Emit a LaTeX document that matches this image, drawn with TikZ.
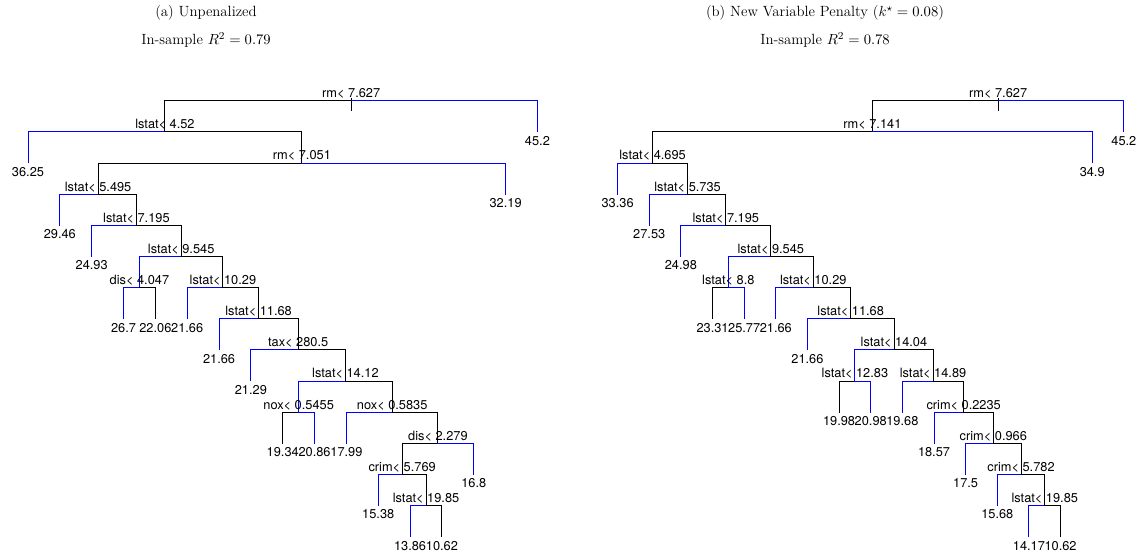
\documentclass[tikz,border=0pt]{standalone}
\usepackage{amsmath}
\usepackage{amssymb}
\usepackage{fontspec}
\newfontfamily\rfont{TeX Gyre Heros}
\usepackage{tikz}

\tikzset{
	lab/.style={inner sep=0pt, font=\rfont\fontsize{9.6}{11}\selectfont},
	splitlab/.style={lab, anchor=base, yshift=2.3pt},
	leaflab/.style={lab, anchor=north, yshift=-3pt},
	branch/.style={line width=0.7pt, line cap=rect},
	ttl/.style={anchor=base, inner sep=0pt, font=\fontsize{11.1}{13}\selectfont},
}

\begin{document}
\begin{tikzpicture}[x=0.75pt,y=-0.75pt]
	\useasboundingbox (0,0) rectangle (1144,556);

	\node (ta) at (206,17) [ttl]{(a) Unpenalized};
	\node (ra) at (206,45) [ttl]{In-sample $R^2 = 0.79$};
	\node (tb) at (825,17) [ttl]{(b) New Variable Penalty ($k^\star = 0.08$)};
	\node (rb) at (825,45) [ttl]{In-sample $R^2 = 0.78$};

	% (a) unpenalized tree, y counts levels
	\begin{scope}[shift={(0,100.7)}, y=-23.36pt]
		\coordinate (A) at (351.19,0);
		\coordinate (B) at (164.93,1);
		\coordinate (C) at (301.87,2);
		\coordinate (D) at (98.13,3);
		\coordinate (E) at (136.42,4);
		\coordinate (F) at (181.17,5);
		\coordinate (G) at (139.44,6);
		\coordinate (H) at (222.9,6);
		\coordinate (I) at (258.59,7);
		\coordinate (J) at (298.14,8);
		\coordinate (K) at (345.41,9);
		\coordinate (L) at (298.64,10);
		\coordinate (M) at (392.17,10);
		\coordinate (N) at (437.94,11);
		\coordinate (O) at (402.12,12);
		\coordinate (P) at (426.0,13);
		\coordinate (a) at (28.0,2);
		\coordinate (b) at (59.84,4);
		\coordinate (c) at (91.68,5);
		\coordinate (d) at (123.52,7);
		\coordinate (e) at (155.36,7);
		\coordinate (f) at (187.2,7);
		\coordinate (g) at (219.04,8);
		\coordinate (h) at (250.88,9);
		\coordinate (i) at (282.72,11);
		\coordinate (j) at (314.56,11);
		\coordinate (k) at (346.4,11);
		\coordinate (l) at (378.24,13);
		\coordinate (m) at (410.08,14);
		\coordinate (n) at (441.92,14);
		\coordinate (o) at (473.76,12);
		\coordinate (p) at (505.6,3);
		\coordinate (q) at (537.44,1);
		\coordinate (A0) at (351.19,-0.08);
		\coordinate (A1) at (351.19,0.3);

		\draw[branch] (A0) -- (A1);
		\draw[branch] (A) -| (B);   \draw[branch,blue] (A) -| (q);
		\draw[branch,blue] (B) -| (a); \draw[branch] (B) -| (C);
		\draw[branch] (C) -| (D);   \draw[branch,blue] (C) -| (p);
		\draw[branch,blue] (D) -| (b); \draw[branch] (D) -| (E);
		\draw[branch,blue] (E) -| (c); \draw[branch] (E) -| (F);
		\draw[branch,blue] (F) -| (G); \draw[branch] (F) -| (H);
		\draw[branch,blue] (G) -| (d); \draw[branch] (G) -| (e);
		\draw[branch,blue] (H) -| (f); \draw[branch] (H) -| (I);
		\draw[branch,blue] (I) -| (g); \draw[branch] (I) -| (J);
		\draw[branch,blue] (J) -| (h); \draw[branch] (J) -| (K);
		\draw[branch,blue] (K) -| (L); \draw[branch] (K) -| (M);
		\draw[branch] (L) -| (i);   \draw[branch,blue] (L) -| (j);
		\draw[branch,blue] (M) -| (k); \draw[branch] (M) -| (N);
		\draw[branch] (N) -| (O);   \draw[branch,blue] (N) -| (o);
		\draw[branch,blue] (O) -| (l); \draw[branch] (O) -| (P);
		\draw[branch,blue] (P) -| (m); \draw[branch] (P) -| (n);

		\node (sA) at (A) [splitlab]{rm< 7.627};
		\node (sB) at (B) [splitlab]{lstat< 4.52};
		\node (sC) at (C) [splitlab]{rm< 7.051};
		\node (sD) at (D) [splitlab]{lstat< 5.495};
		\node (sE) at (E) [splitlab]{lstat< 7.195};
		\node (sF) at (F) [splitlab]{lstat< 9.545};
		\node (sG) at (G) [splitlab]{dis< 4.047};
		\node (sH) at (H) [splitlab]{lstat< 10.29};
		\node (sI) at (I) [splitlab]{lstat< 11.68};
		\node (sJ) at (J) [splitlab]{tax< 280.5};
		\node (sK) at (K) [splitlab]{lstat< 14.12};
		\node (sL) at (L) [splitlab]{nox< 0.5455};
		\node (sM) at (M) [splitlab]{nox< 0.5835};
		\node (sN) at (N) [splitlab]{dis< 2.279};
		\node (sO) at (O) [splitlab]{crim< 5.769};
		\node (sP) at (P) [splitlab]{lstat< 19.85};

		\node (va) at (a) [leaflab]{36.25};
		\node (vb) at (b) [leaflab]{29.46};
		\node (vc) at (c) [leaflab]{24.93};
		\node (vd) at (d) [leaflab]{26.7};
		\node (ve) at (e) [leaflab]{22.06};
		\node (vf) at (f) [leaflab]{21.66};
		\node (vg) at (g) [leaflab]{21.66};
		\node (vh) at (h) [leaflab]{21.29};
		\node (vi) at (i) [leaflab]{19.34};
		\node (vj) at (j) [leaflab]{20.86};
		\node (vk) at (k) [leaflab]{17.99};
		\node (vl) at (l) [leaflab]{15.38};
		\node (vm) at (m) [leaflab]{13.86};
		\node (vn) at (n) [leaflab]{10.62};
		\node (vo) at (o) [leaflab]{16.8};
		\node (vp) at (p) [leaflab]{32.19};
		\node (vq) at (q) [leaflab]{45.2};
	\end{scope}

	% (b) tree with the new variable penalty
	\begin{scope}[shift={(0,100.7)}, y=-23.36pt]
		\coordinate (A') at (998.12,0);
		\coordinate (B') at (872.39,1);
		\coordinate (C') at (652.57,2);
		\coordinate (D') at (687.54,3);
		\coordinate (E') at (725.84,4);
		\coordinate (F') at (770.8,5);
		\coordinate (G') at (728.34,6);
		\coordinate (H') at (813.25,6);
		\coordinate (I') at (850.7,7);
		\coordinate (J') at (893.96,8);
		\coordinate (K') at (854.9,9);
		\coordinate (L') at (933.01,9);
		\coordinate (M') at (963.66,10);
		\coordinate (N') at (993.33,11);
		\coordinate (O') at (1021.01,12);
		\coordinate (P') at (1044.74,13);
		\coordinate (a') at (617.6,3);
		\coordinate (b') at (649.24,4);
		\coordinate (c') at (680.88,5);
		\coordinate (d') at (712.52,7);
		\coordinate (e') at (744.16,7);
		\coordinate (f') at (775.8,7);
		\coordinate (g') at (807.44,8);
		\coordinate (h') at (839.08,10);
		\coordinate (i') at (870.72,10);
		\coordinate (j') at (902.36,10);
		\coordinate (k') at (934.0,11);
		\coordinate (l') at (965.64,12);
		\coordinate (m') at (997.28,13);
		\coordinate (n') at (1028.92,14);
		\coordinate (o') at (1060.56,14);
		\coordinate (p') at (1092.2,2);
		\coordinate (q') at (1123.84,1);
		\coordinate (A0') at (998.12,-0.08);
		\coordinate (A1') at (998.12,0.3);

		\draw[branch] (A0') -- (A1');
		\draw[branch] (A') -| (B');    \draw[branch,blue] (A') -| (q');
		\draw[branch] (B') -| (C');    \draw[branch,blue] (B') -| (p');
		\draw[branch,blue] (C') -| (a'); \draw[branch] (C') -| (D');
		\draw[branch,blue] (D') -| (b'); \draw[branch] (D') -| (E');
		\draw[branch,blue] (E') -| (c'); \draw[branch] (E') -| (F');
		\draw[branch,blue] (F') -| (G'); \draw[branch] (F') -| (H');
		\draw[branch] (G') -| (d');    \draw[branch,blue] (G') -| (e');
		\draw[branch,blue] (H') -| (f'); \draw[branch] (H') -| (I');
		\draw[branch,blue] (I') -| (g'); \draw[branch] (I') -| (J');
		\draw[branch,blue] (J') -| (K'); \draw[branch] (J') -| (L');
		\draw[branch] (K') -| (h');    \draw[branch,blue] (K') -| (i');
		\draw[branch,blue] (L') -| (j'); \draw[branch] (L') -| (M');
		\draw[branch,blue] (M') -| (k'); \draw[branch] (M') -| (N');
		\draw[branch,blue] (N') -| (l'); \draw[branch] (N') -| (O');
		\draw[branch,blue] (O') -| (m'); \draw[branch] (O') -| (P');
		\draw[branch,blue] (P') -| (n'); \draw[branch] (P') -| (o');

		\node (sA') at (A') [splitlab]{rm< 7.627};
		\node (sB') at (B') [splitlab]{rm< 7.141};
		\node (sC') at (C') [splitlab]{lstat< 4.695};
		\node (sD') at (D') [splitlab]{lstat< 5.735};
		\node (sE') at (E') [splitlab]{lstat< 7.195};
		\node (sF') at (F') [splitlab]{lstat< 9.545};
		\node (sG') at (G') [splitlab]{lstat< 8.8};
		\node (sH') at (H') [splitlab]{lstat< 10.29};
		\node (sI') at (I') [splitlab]{lstat< 11.68};
		\node (sJ') at (J') [splitlab]{lstat< 14.04};
		\node (sK') at (K') [splitlab]{lstat< 12.83};
		\node (sL') at (L') [splitlab]{lstat< 14.89};
		\node (sM') at (M') [splitlab]{crim< 0.2235};
		\node (sN') at (N') [splitlab]{crim< 0.966};
		\node (sO') at (O') [splitlab]{crim< 5.782};
		\node (sP') at (P') [splitlab]{lstat< 19.85};

		\node (va') at (a') [leaflab]{33.36};
		\node (vb') at (b') [leaflab]{27.53};
		\node (vc') at (c') [leaflab]{24.98};
		\node (vd') at (d') [leaflab]{23.31};
		\node (ve') at (e') [leaflab]{25.77};
		\node (vf') at (f') [leaflab]{21.66};
		\node (vg') at (g') [leaflab]{21.66};
		\node (vh') at (h') [leaflab]{19.98};
		\node (vi') at (i') [leaflab]{20.98};
		\node (vj') at (j') [leaflab]{19.68};
		\node (vk') at (k') [leaflab]{18.57};
		\node (vl') at (l') [leaflab]{17.5};
		\node (vm') at (m') [leaflab]{15.68};
		\node (vn') at (n') [leaflab]{14.17};
		\node (vo') at (o') [leaflab]{10.62};
		\node (vp') at (p') [leaflab]{34.9};
		\node (vq') at (q') [leaflab]{45.2};
	\end{scope}
\end{tikzpicture}
\end{document}
